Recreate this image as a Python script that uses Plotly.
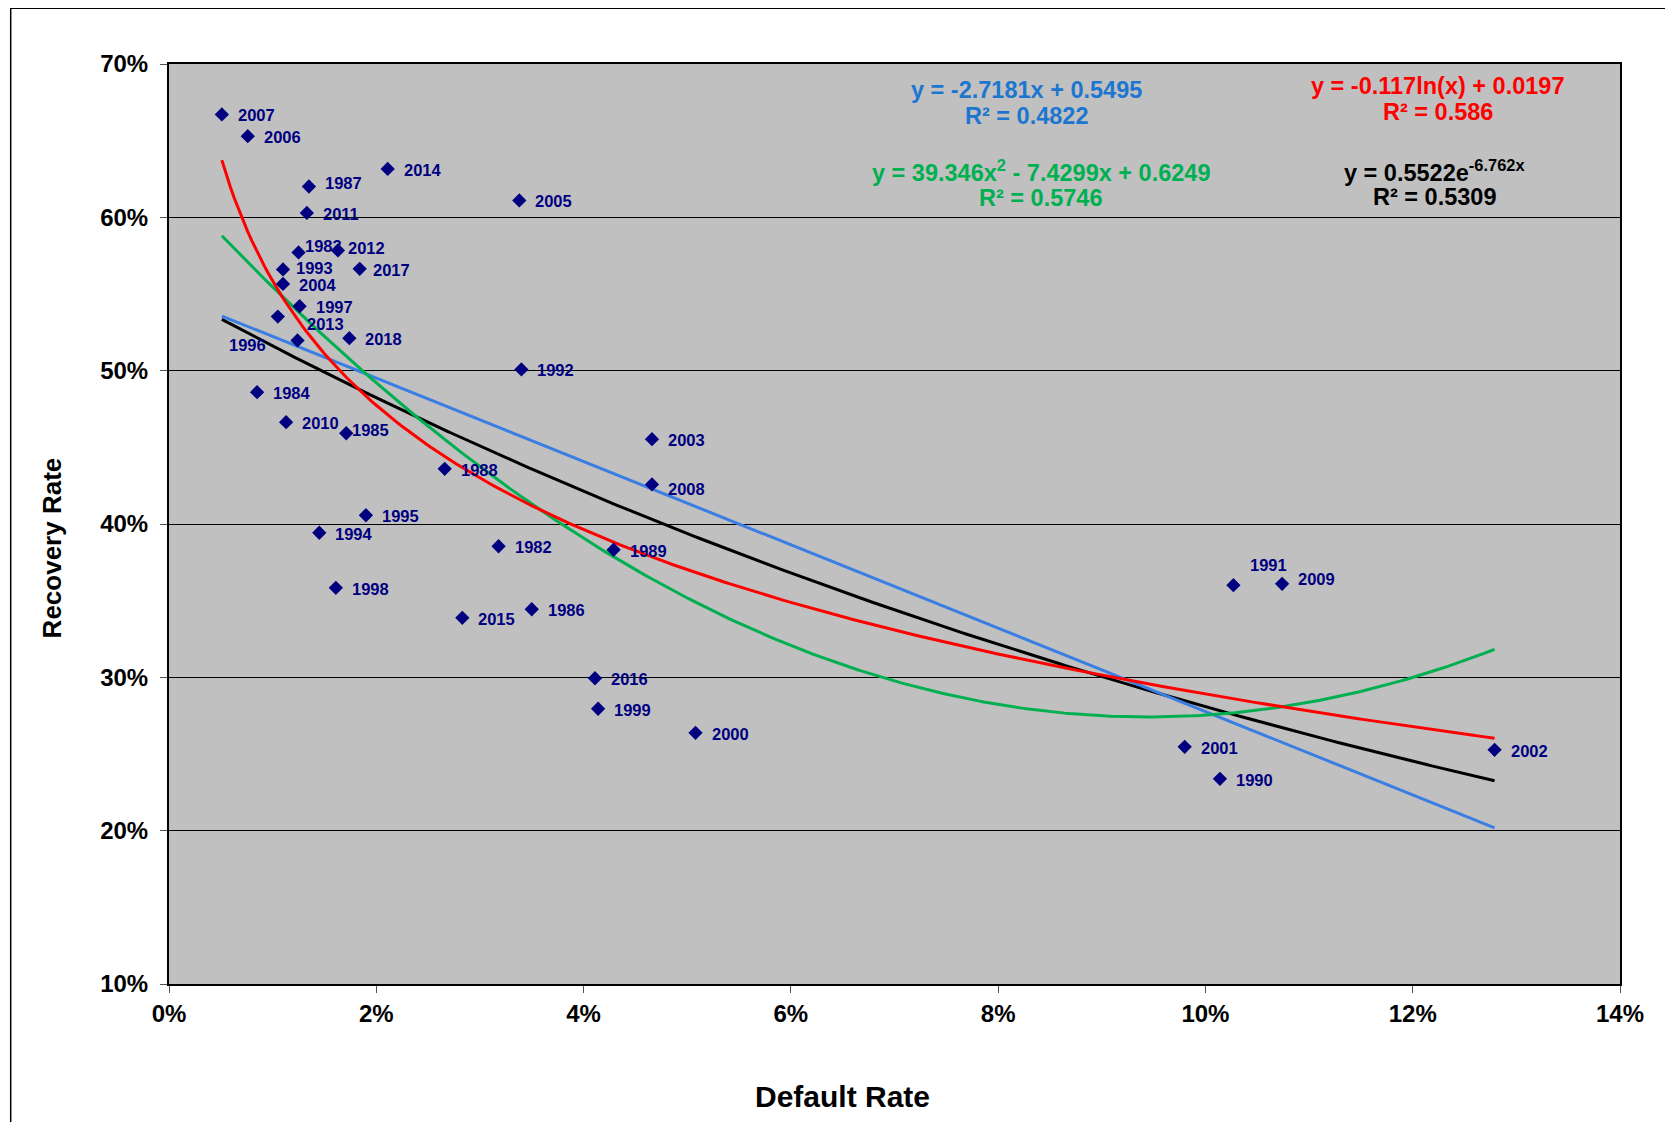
import numpy as np
import plotly.graph_objects as go

# ---------------- data ----------------
years = [1982, 1983, 1984, 1985, 1986, 1987, 1988, 1989, 1990, 1991,
         1992, 1993, 1994, 1995, 1996, 1997, 1998, 1999, 2000, 2001,
         2002, 2003, 2004, 2005, 2006, 2007, 2008, 2009, 2010, 2011,
         2012, 2013, 2014, 2015, 2016, 2017, 2018]
default_rate = [0.0318, 0.0125, 0.0085, 0.0171, 0.0350, 0.0135, 0.0266, 0.0429, 0.1014, 0.1027,
                0.0340, 0.0110, 0.0145, 0.0190, 0.0124, 0.0126, 0.0161, 0.0414, 0.0508, 0.0980,
                0.1279, 0.0466, 0.0110, 0.0338, 0.0076, 0.0051, 0.0466, 0.1074, 0.0113, 0.0133,
                0.0163, 0.0105, 0.0211, 0.0283, 0.0411, 0.0184, 0.0174]
recovery_rate = [0.3855, 0.5771, 0.4860, 0.4592, 0.3444, 0.6201, 0.4360, 0.3832, 0.2338, 0.3601,
                 0.5008, 0.5660, 0.3943, 0.4057, 0.5197, 0.5420, 0.3584, 0.2795, 0.2638, 0.2547,
                 0.2527, 0.4553, 0.5566, 0.6110, 0.6529, 0.6671, 0.4258, 0.3610, 0.4664, 0.6029,
                 0.5784, 0.5353, 0.6316, 0.3388, 0.2994, 0.5664, 0.5212]

# trendline coefficients, as printed on the chart
linear_coef = [-2.7181, 0.5495]            # y = a x + b
poly_coef = [39.346, -7.4299, 0.6249]      # y = a x^2 + b x + c
log_coef = [-0.117, 0.0197]                # y = a ln(x) + b
exp_coef = [0.5522, -6.762]                # y = a e^(b x)

eq_texts = {
    "linear": ["y = -2.7181x + 0.5495", "R² = 0.4822"],
    "poly": ["y = 39.346x<sup>2</sup> - 7.4299x + 0.6249", "R² = 0.5746"],
    "log": ["y = -0.117ln(x) + 0.0197", "R² = 0.586"],
    "exp": ["y = 0.5522e<sup>-6.762x</sup>", "R² = 0.5309"],
}

y_ticks = [0.1, 0.2, 0.3, 0.4, 0.5, 0.6, 0.7]
x_ticks = [0.0, 0.02, 0.04, 0.06, 0.08, 0.10, 0.12, 0.14]

# ---------------- styling ----------------
FONT = "Liberation Sans, Arial, sans-serif"
NAVY = "#000080"
BLUE_LINE = "#3A7EE4"
BLUE_TXT = "#1C76CF"
RED = "#FF0000"
GREEN = "#00B050"

# label pixel offsets (dx, dy, anchor) ; default right of marker
label_offsets = {
    1987: (14, 4, "left"),
    1983: (4, 6, "left"),
    2012: (8, 2, "left"),
    1993: (11, 1, "left"),
    2017: (11, -1, "left"),
    2013: (27, -7, "left"),
    1996: (-30, -5, "right"),
    1985: (4, 3, "left"),
    2008: (14, -5, "left"),
    1991: (15, 20, "left"),
    2009: (14, 5, "left"),
}
DEFAULT_OFFSET = (14, -1, "left")

fig = go.Figure()

# trendlines
xs = np.linspace(min(default_rate), max(default_rate), 300)
lin_y = linear_coef[0] * xs + linear_coef[1]
poly_y = poly_coef[0] * xs ** 2 + poly_coef[1] * xs + poly_coef[2]
log_y = log_coef[0] * np.log(xs) + log_coef[1]
exp_y = exp_coef[0] * np.exp(exp_coef[1] * xs)

for yy, col in [(exp_y, "black"), (lin_y, BLUE_LINE), (poly_y, GREEN), (log_y, RED)]:
    fig.add_trace(go.Scatter(x=xs, y=yy, mode="lines",
                             line=dict(color=col, width=3),
                             hoverinfo="skip", showlegend=False))

# data points
fig.add_trace(go.Scatter(
    x=default_rate, y=recovery_rate, mode="markers",
    marker=dict(symbol="diamond", size=11, color=NAVY, line=dict(width=0)),
    text=[str(y) for y in years], showlegend=False))

annotations = []
for yr, xv, yv in zip(years, default_rate, recovery_rate):
    dx, dy, anc = label_offsets.get(yr, DEFAULT_OFFSET)
    annotations.append(dict(
        x=xv, y=yv, xref="x", yref="y", text=str(yr), showarrow=False,
        xanchor=anc, yanchor="middle", xshift=dx, yshift=dy,
        font=dict(family=FONT, size=16.5, color=NAVY, weight="bold")))

# equations
eq_pos = {
    "linear": (0.0827, [0.6830, 0.6663], BLUE_TXT),
    "log": (0.1224, [0.6857, 0.6690], RED),
    "poly": (0.0841, [0.6301, 0.6126], GREEN),
    "exp": (0.1221, [0.6301, 0.6134], "black"),
}
for key, (xp, ys_, col) in eq_pos.items():
    for line_txt, yp in zip(eq_texts[key], ys_):
        annotations.append(dict(
            x=xp, y=yp, xref="x", yref="y", text=line_txt, showarrow=False,
            xanchor="center", yanchor="middle",
            font=dict(family=FONT, size=23.5, color=col, weight="bold")))

# axis titles
annotations.append(dict(
    x=0.464, y=-0.1223, xref="paper", yref="paper", text="Default Rate",
    showarrow=False, xanchor="center", yanchor="middle",
    font=dict(family=FONT, size=30, color="black", weight="bold")))
annotations.append(dict(
    x=-0.081, y=0.474, xref="paper", yref="paper", text="Recovery Rate",
    showarrow=False, xanchor="center", yanchor="middle", textangle=-90,
    font=dict(family=FONT, size=26, color="black", weight="bold")))

fig.update_layout(
    width=1665, height=1114,
    margin=dict(l=161, r=53, t=56, b=138, pad=0),
    paper_bgcolor="white",
    plot_bgcolor="#C0C0C0",
    showlegend=False,
    annotations=annotations,
    shapes=[dict(type="rect", xref="paper", yref="paper",
                 x0=-0.1091, x1=1.2, y0=-0.3, y1=1.0605,
                 line=dict(color="black", width=1.5), layer="below")],
    xaxis=dict(range=[0, 0.14], tickvals=x_ticks, tickformat=".0%",
               showgrid=False, zeroline=False,
               showline=True, linecolor="black", linewidth=2, mirror=True,
               ticks="outside", ticklen=7, tickcolor="#555555", tickwidth=1,
               ticklabelstandoff=0,
               tickfont=dict(family=FONT, size=24, color="black", weight="bold")),
    yaxis=dict(range=[0.1, 0.7], tickvals=y_ticks, tickformat=".0%",
               showgrid=True, gridcolor="black", gridwidth=1, zeroline=False,
               showline=True, linecolor="black", linewidth=2, mirror=True,
               ticks="outside", ticklen=7, tickcolor="#555555", tickwidth=1,
               ticklabelstandoff=7,
               tickfont=dict(family=FONT, size=24, color="black", weight="bold")),
)

fig.write_html("out.html")
